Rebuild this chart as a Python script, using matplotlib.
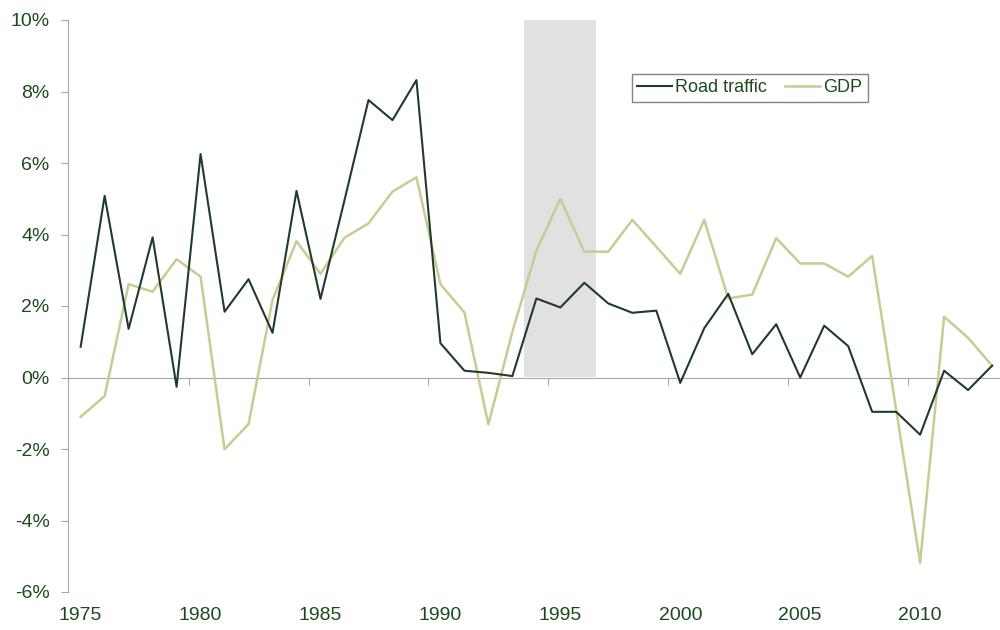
import matplotlib
matplotlib.use("Agg")
import matplotlib.pyplot as plt
from matplotlib.ticker import FuncFormatter

years = list(range(1975, 2014))
road_traffic = [0.86, 5.08, 1.36, 3.92, -0.26, 6.25, 1.84, 2.75, 1.25, 5.22,
                2.20, 4.96, 7.76, 7.20, 8.32, 0.96, 0.19, 0.13, 0.04, 2.21,
                1.96, 2.65, 2.07, 1.81, 1.87, -0.15, 1.38, 2.34, 0.65, 1.49,
                0.00, 1.45, 0.88, -0.96, -0.96, -1.60, 0.19, -0.35, 0.33]
gdp = [-1.10, -0.52, 2.61, 2.40, 3.31, 2.82, -2.01, -1.30, 2.17, 3.81,
       2.90, 3.91, 4.31, 5.20, 5.60, 2.61, 1.82, -1.31, 1.28, 3.55,
       5.00, 3.52, 3.52, 4.41, 3.66, 2.90, 4.41, 2.21, 2.32, 3.90,
       3.19, 3.19, 2.82, 3.40, -0.90, -5.18, 1.70, 1.11, 0.33]
shade_years = (1993.5, 1996.5)
shade_top = 10
x_labels = [1975, 1980, 1985, 1990, 1995, 2000, 2005, 2010]
y_ticks = [-6, -4, -2, 0, 2, 4, 6, 8, 10]

C_ROAD = "#1f3b2c"
C_GDP = "#c8cc94"
C_TEXT = "#1c4a1c"
C_AXIS = "#a6a6a6"

plt.rcParams["font.family"] = ["Liberation Sans", "DejaVu Sans"]

fig = plt.figure(figsize=(10, 6.3), dpi=100)
ax = fig.add_axes([0.0677, 1 - 592 / 630, 1 - 0.0677, 572 / 630])

ax.fill_between(shade_years, 0, shade_top, color="#e1e1e1", lw=0, zorder=0)
ax.plot(years, road_traffic, color=C_ROAD, lw=1.5, label="Road traffic", zorder=3)
ax.plot(years, gdp, color=C_GDP, lw=1.8, label="GDP", zorder=2)

ax.set_ylim(-6, 10)
ax.set_xlim(1974.46, 2013.33)
ax.set_yticks(y_ticks)
ax.yaxis.set_major_formatter(FuncFormatter(lambda v, p: f"{v:.0f}%"))
ax.tick_params(axis="y", direction="out", length=5, color=C_AXIS,
               labelcolor=C_TEXT, labelsize=14, pad=8)

# category labels at the bottom, no tick marks
ax.set_xticks(x_labels)
ax.tick_params(axis="x", length=0, labelcolor=C_TEXT, labelsize=14, pad=11)

for s in ["top", "right", "bottom"]:
    ax.spines[s].set_visible(False)
ax.spines["left"].set_color(C_AXIS)

# zero axis with tick marks between categories
zero_frac = (0 - (-6)) / 16
sec = ax.secondary_xaxis(zero_frac)
sec.set_xticks([y - 0.5 for y in x_labels[1:]])
sec.set_xticklabels([])
sec.tick_params(direction="out", length=5, color=C_AXIS)
sec.spines["bottom"].set_color(C_AXIS)
sec.spines["top"].set_visible(False)

leg = ax.legend(loc="upper left", bbox_to_anchor=(0.632, 1 - 74 / 630),
                bbox_transform=fig.transFigure, ncol=2, frameon=True,
                fancybox=False, fontsize=13, handlelength=1.9,
                handletextpad=0.2, columnspacing=1.0, borderpad=0.3,
                borderaxespad=0)
leg.get_frame().set_edgecolor("#5d6b62")
leg.get_frame().set_linewidth(1.0)
for t in leg.get_texts():
    t.set_color(C_TEXT)

fig.savefig("out.png", dpi=100)
